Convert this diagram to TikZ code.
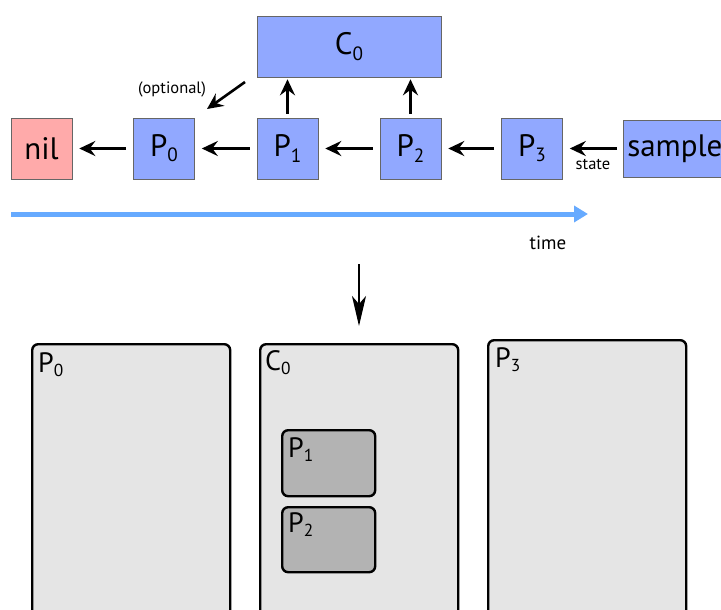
\documentclass[tikz,border=0pt]{standalone}
\usepackage{fontspec}
\setmainfont{PT Sans}
\usetikzlibrary{arrows.meta}

\definecolor{boxblue}{RGB}{145,168,255}
\definecolor{boxpink}{RGB}{255,170,170}
\definecolor{timeblue}{RGB}{102,170,255}
\definecolor{panelgray}{RGB}{229,229,229}
\definecolor{innergray}{RGB}{179,179,179}

% lowered, shrunk index digit
\newcommand\idx[1]{\raisebox{-0.17em}{\scalebox{0.62}{#1}}}

\tikzset{
  stepbox/.style={draw=black!60, line width=0.6pt, fill=boxblue, inner sep=0pt,
    minimum width=61pt, minimum height=61pt, font=\fontsize{31}{36}\selectfont},
  arr/.style={line width=2.6pt, -{Stealth[length=16pt, width=15pt, inset=5.5pt]}},
  panel/.style={draw=black, line width=2.4pt, fill=panelgray, rounded corners=6pt},
  subpanel/.style={draw=black, line width=2.4pt, fill=innergray, rounded corners=6pt},
  plabel/.style={anchor=base west, inner sep=0pt, font=\fontsize{28}{32}\selectfont},
  smalltext/.style={font=\fontsize{16.5}{19}\selectfont, inner sep=0pt},
}

\begin{document}
\begin{tikzpicture}[x=1pt, y=-1pt]
\useasboundingbox (0,0) rectangle (721,610);
\clip (0,0) rectangle (721,610);

% ---- chain of states ----
\node[stepbox, fill=boxpink] (nil) at (41.5,148.5) {nil};
\node[stepbox] (P0) at (164,148.5) {P\idx{0}};
\node[stepbox] (P1) at (287.5,148.5) {P\idx{1}};
\node[stepbox] (P2) at (410.5,148.5) {P\idx{2}};
\node[stepbox] (P3) at (532,148.5) {P\idx{3}};
\node[stepbox, anchor=west, minimum width=0pt, minimum height=57pt, inner xsep=4pt]
  (sample) at (623,148.5) {sample};
\node[stepbox, minimum width=184pt] (C0) at (349,46.5) {C\idx{0}};

\draw[arr, shorten <=7pt, shorten >=7pt] (P0) -- (nil);
\draw[arr, shorten <=7pt, shorten >=7pt] (P1) -- (P0);
\draw[arr, shorten <=7pt, shorten >=7pt] (P2) -- (P1);
\draw[arr, shorten <=7pt, shorten >=7pt] (P3) -- (P2);
\draw[arr, shorten <=6pt, shorten >=7pt] (sample) -- (P3);
\node[smalltext] (state) at (593,164) {state};

\draw[arr, shorten <=4pt, shorten >=2pt] (P1.north) -- (P1.north |- C0.south);
\draw[arr, shorten <=4pt, shorten >=2pt] (P2.north) -- (P2.north |- C0.south);

% optional link from the checkpoint to P0
\coordinate (optfrom) at (245,82);
\coordinate (optto) at (207,109);
\draw[arr] (optfrom) -- (optto);
\node[smalltext] (optional) at (172,89) {(optional)};

% ---- time axis ----
\coordinate (tstart) at (11,214);
\coordinate (tend) at (588,214);
\draw[timeblue, line width=5pt, -{Triangle[length=14pt, width=16pt]}] (tstart) -- (tend);
\node[smalltext, font=\fontsize{19}{22}\selectfont] (time) at (548,243) {time};

% ---- transformation arrow ----
\coordinate (dstart) at (359,264);
\coordinate (dend) at (359,326);
\draw[line width=2.2pt, -{Stealth[length=30pt, width=14pt, inset=8pt]}] (dstart) -- (dend);

% ---- resulting panels ----
\node[panel, anchor=north west, minimum width=198pt, minimum height=320pt] (bP0) at (31,343) {};
\node[panel, anchor=north west, minimum width=198pt, minimum height=320pt] (bC0) at (259,343) {};
\node[panel, anchor=north west, minimum width=198pt, minimum height=320pt] (bP3) at (487,339) {};
\node[subpanel, anchor=north west, minimum width=93pt, minimum height=66pt] (bP1) at (281,429) {};
\node[subpanel, anchor=north west, minimum width=93pt, minimum height=65pt] (bP2) at (281,506) {};

\node[plabel] (lP0) at (38,372) {P\idx{0}};
\node[plabel] (lC0) at (265,370) {C\idx{0}};
\node[plabel] (lP3) at (495,367) {P\idx{3}};
\node[plabel] (lP1) at (288,457) {P\idx{1}};
\node[plabel] (lP2) at (288,532) {P\idx{2}};
\end{tikzpicture}
\end{document}
